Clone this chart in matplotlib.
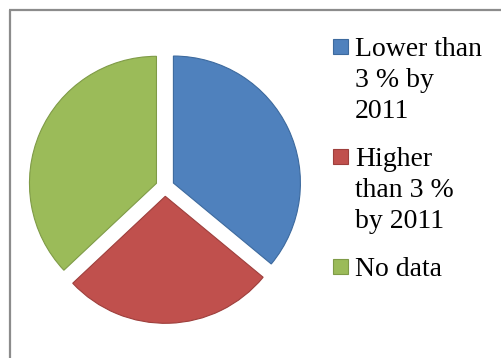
import matplotlib.pyplot as plt
from matplotlib.patches import Rectangle

# share of countries per group
categories = ["Lower than\n3 % by\n2011", "Higher\nthan 3 %\nby 2011", "No data"]
shares = [36, 27, 37]
colors = ["#4F81BD", "#C0504D", "#9BBB59"]
edge_colors = ["#3D6A9E", "#9E3F3C", "#7F9B47"]

W, H = 501, 358
fig = plt.figure(figsize=(W / 100, H / 100), dpi=100)
ax = fig.add_axes([0, 0, 1, 1])

# pie in pixel units, y measured from bottom
wedges, _ = ax.pie(shares, colors=colors, startangle=90, counterclock=False,
                   center=(165, H - 187), radius=127, explode=[9.3] * 3,
                   wedgeprops=dict(linewidth=0.8))
for w, ec in zip(wedges, edge_colors):
    w.set_edgecolor(ec)

ax.set_xlim(0, W)
ax.set_ylim(0, H)
ax.set_aspect('equal')
ax.axis('off')

# chart frame (only left/top edges visible in the crop)
ax.plot([10, 10], [0, H - 10], color="#8C8C8C", lw=1.6, solid_capstyle='butt')
ax.plot([9.4, W], [H - 10, H - 10], color="#8C8C8C", lw=1.6, solid_capstyle='butt')

# legend drawn by hand so the swatch lines up with the first line
for i, (label, c, ec) in enumerate(zip(categories, colors, edge_colors)):
    base = 56 + 110 * i
    ax.add_patch(Rectangle((333, H - base + 2), 15, 15, facecolor=c,
                           edgecolor=ec, lw=0.8))
    for j, line in enumerate(label.split("\n")):
        ax.text(355, H - (base + 31 * j), line, fontsize=20,
                family="Liberation Serif", va="baseline", ha="left")

fig.savefig("out.png", dpi=100)
